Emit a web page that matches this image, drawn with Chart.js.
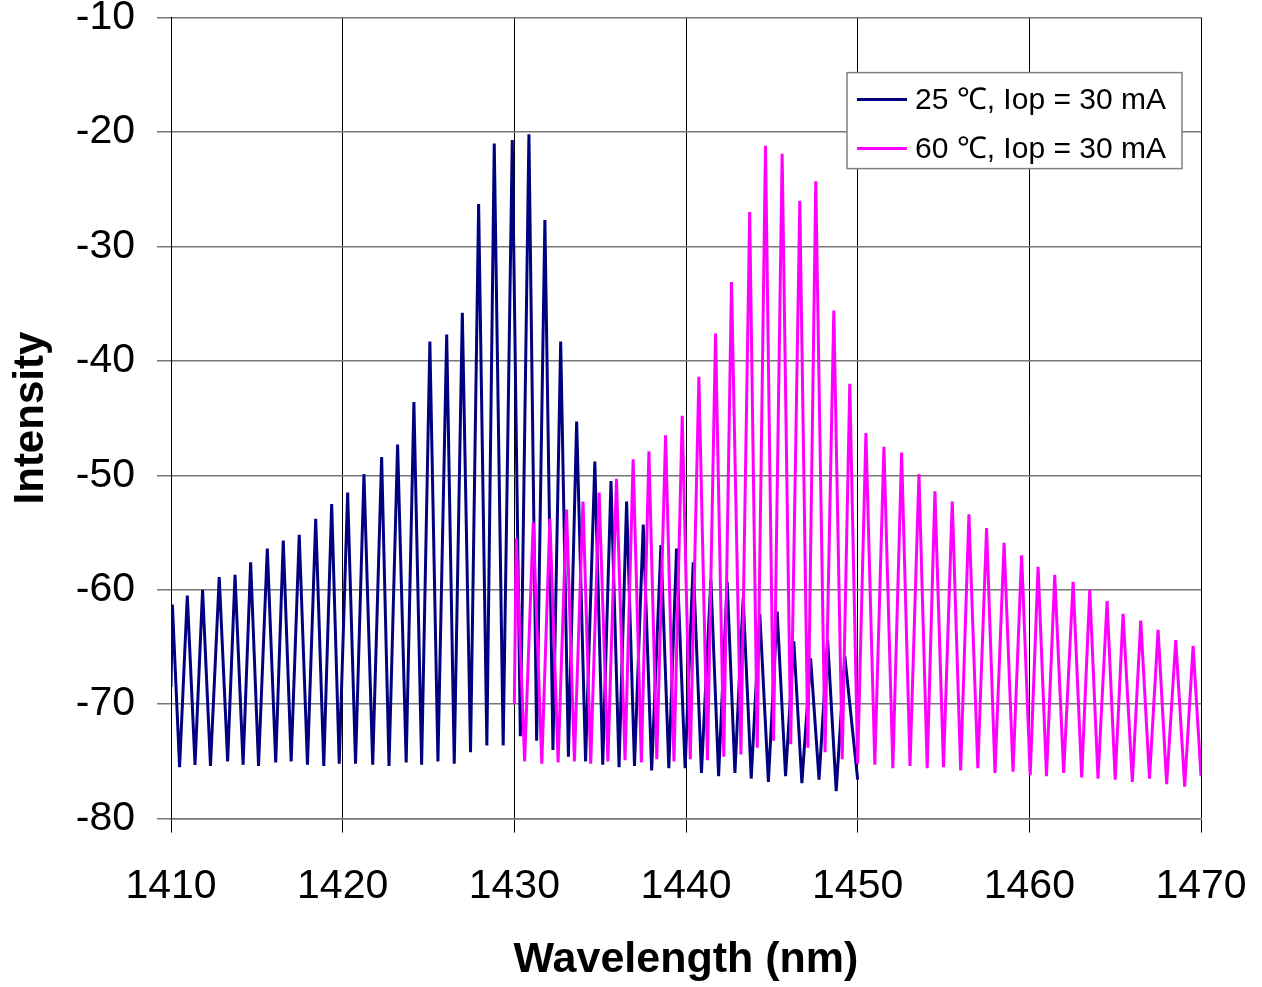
<!DOCTYPE html>
<html>
<head>
<meta charset="utf-8">
<script src="https://cdn.jsdelivr.net/npm/chart.js@4.4.0/dist/chart.umd.min.js"></script>
<style>
  html, body { margin: 0; padding: 0; background: #fff; }
  #wrap { width: 1262px; height: 987px; }
</style>
</head>
<body>
<div id="wrap"><canvas id="spectrum" width="1262" height="987"></canvas></div>
<script>
// series labels
const seriesNames = ['25 \u2103, Iop = 30 mA', '60 \u2103, Iop = 30 mA'];

// axis ticks
const xTicks = [1410, 1420, 1430, 1440, 1450, 1460, 1470];
const yTicks = [-80, -70, -60, -50, -40, -30, -20, -10];

// 25 C: mode peaks (nm, dB)
const bluePeakWl = [1410.08, 1410.95, 1411.84, 1412.81, 1413.73, 1414.64, 1415.61, 1416.54, 1417.47, 1418.43,
  1419.36, 1420.29, 1421.24, 1422.27, 1423.2, 1424.15, 1425.08, 1426.06, 1426.97, 1427.92,
  1428.83, 1429.88, 1430.85, 1431.78, 1432.7, 1433.63, 1434.69, 1435.63, 1436.54, 1437.51,
  1438.54, 1439.45, 1440.42, 1441.45, 1442.4, 1443.33, 1444.3, 1445.31, 1446.28, 1447.26,
  1448.25, 1449.25];
const bluePeakDb = [-61.3, -60.5, -60.0, -58.9, -58.7, -57.6, -56.4, -55.7, -55.2, -53.8,
  -52.5, -51.5, -49.9, -48.4, -47.3, -43.6, -38.3, -37.7, -35.8, -26.3,
  -21.0, -20.7, -20.2, -27.7, -38.3, -45.3, -48.8, -50.5, -52.3, -54.3,
  -56.1, -56.4, -57.6, -59.1, -59.3, -60.7, -62.1, -61.9, -64.5, -66.0,
  -64.4, -65.8];
// 25 C: valleys (start, between modes, end)
const blueValleyWl = [1410.0, 1410.5, 1411.4, 1412.3, 1413.3, 1414.2, 1415.1, 1416.1, 1417.0, 1417.95, 1418.9,
  1419.8, 1420.75, 1421.75, 1422.7, 1423.7, 1424.6, 1425.55, 1426.5, 1427.45, 1428.4,
  1429.35, 1430.35, 1431.3, 1432.25, 1433.15, 1434.15, 1435.15, 1436.1, 1437.0, 1438.0,
  1439.0, 1439.95, 1440.9, 1441.9, 1442.85, 1443.8, 1444.8, 1445.8, 1446.75, 1447.75,
  1448.75, 1450.0];
const blueValleyDb = [-68.5, -75.5, -75.3, -75.4, -75.0, -75.3, -75.4, -75.1, -75.0, -75.3, -75.4,
  -75.2, -75.2, -75.3, -75.4, -75.1, -75.3, -75.0, -75.2, -74.2, -73.6,
  -73.6, -72.8, -73.2, -74.0, -74.6, -75.0, -75.3, -75.5, -75.4, -75.8,
  -75.6, -75.6, -76.0, -76.3, -76.0, -76.5, -76.8, -76.3, -76.9, -76.6,
  -77.6, -76.6];

// 60 C: mode peaks (nm, dB)
const pinkPeakWl = [1430.11, 1431.1, 1432.07, 1433.04, 1434.0, 1434.94, 1435.95, 1436.92, 1437.84, 1438.81,
  1439.78, 1440.75, 1441.72, 1442.65, 1443.71, 1444.63, 1445.6, 1446.63, 1447.56, 1448.61,
  1449.54, 1450.48, 1451.53, 1452.56, 1453.57, 1454.5, 1455.51, 1456.48, 1457.51, 1458.53,
  1459.55, 1460.51, 1461.48, 1462.55, 1463.52, 1464.53, 1465.46, 1466.49, 1467.5, 1468.53,
  1469.54];
const pinkPeakDb = [-55.5, -54.1, -53.8, -53.0, -52.3, -51.5, -50.3, -48.6, -47.9, -46.5,
  -44.8, -41.4, -37.6, -33.1, -27.0, -21.2, -21.9, -26.0, -24.3, -35.6,
  -42.0, -46.3, -47.5, -48.0, -49.9, -51.4, -52.3, -53.4, -54.6, -55.9,
  -57.0, -58.0, -58.7, -59.3, -60.0, -61.0, -62.1, -62.7, -63.5, -64.4,
  -64.9];
// 60 C: valleys (start, between modes, end)
const pinkValleyWl = [1430.0, 1430.6, 1431.6, 1432.55, 1433.5, 1434.45, 1435.45, 1436.45, 1437.4, 1438.3, 1439.3,
  1440.25, 1441.25, 1442.2, 1443.2, 1444.15, 1445.1, 1446.1, 1447.1, 1448.1, 1449.1,
  1450.0, 1451.0, 1452.05, 1453.05, 1454.05, 1455.0, 1456.0, 1457.0, 1458.0, 1459.05,
  1460.05, 1461.0, 1462.0, 1463.05, 1464.0, 1465.0, 1466.0, 1467.0, 1468.0, 1469.05,
  1470.0];
const pinkValleyDb = [-70.0, -75.0, -75.2, -75.1, -75.0, -75.2, -75.0, -74.9, -75.1, -74.8, -75.0,
  -74.8, -74.9, -74.6, -74.4, -73.8, -73.2, -73.5, -73.8, -74.2, -74.8,
  -75.2, -75.3, -75.6, -75.4, -75.6, -75.5, -75.8, -75.6, -76.0, -75.9,
  -76.2, -76.3, -76.0, -76.4, -76.5, -76.6, -76.8, -76.5, -77.0, -77.2,
  -76.3];

// valley, peak, valley, peak ... valley
function trace(peakWl, peakDb, valleyWl, valleyDb) {
    const pts = [{ x: valleyWl[0], y: valleyDb[0] }];
    peakWl.forEach((w, i) => {
        pts.push({ x: w, y: peakDb[i] });
        pts.push({ x: valleyWl[i + 1], y: valleyDb[i + 1] });
    });
    return pts;
}

const FONT = "'Liberation Sans', Arial, sans-serif";

// boxed legend inside the plot, top right
const boxLegend = {
    id: 'boxLegend',
    afterDatasetsDraw(chart) {
        const ctx = chart.ctx;
        const area = chart.chartArea;
        const x = area.right - 354, y = area.top + 55, w = 335, h = 96;
        ctx.save();
        ctx.fillStyle = '#fff';
        ctx.fillRect(x, y, w, h);
        ctx.strokeStyle = '#808080';
        ctx.lineWidth = 1.5;
        ctx.strokeRect(x, y, w, h);
        ctx.font = '30px ' + FONT;
        ctx.textBaseline = 'middle';
        ctx.fillStyle = '#000';
        chart.data.datasets.forEach((ds, i) => {
            const ly = y + 27 + i * 49;
            ctx.strokeStyle = ds.borderColor;
            ctx.lineWidth = 3;
            ctx.beginPath();
            ctx.moveTo(x + 10, ly);
            ctx.lineTo(x + 60, ly);
            ctx.stroke();
            ctx.fillText(ds.label, x + 68, ly + 1);
        });
        ctx.restore();
    }
};

new Chart(document.getElementById('spectrum'), {
    type: 'line',
    data: {
        datasets: [
            { label: seriesNames[0], data: trace(bluePeakWl, bluePeakDb, blueValleyWl, blueValleyDb),
              borderColor: '#000080', borderWidth: 3, pointRadius: 0, tension: 0, order: 1 },
            { label: seriesNames[1], data: trace(pinkPeakWl, pinkPeakDb, pinkValleyWl, pinkValleyDb),
              borderColor: '#ff00ff', borderWidth: 3, pointRadius: 0, tension: 0, order: 0 }
        ]
    },
    options: {
        responsive: false,
        animation: false,
        devicePixelRatio: 1,
        layout: { padding: { top: 17.6, right: 61, left: 0, bottom: 0 } },
        plugins: { legend: { display: false }, tooltip: { enabled: false } },
        scales: {
            x: {
                type: 'linear', min: 1410, max: 1470,
                afterBuildTicks: s => { s.ticks = xTicks.map(v => ({ value: v })); },
                afterFit: s => { s.height = 168.4; s.paddingLeft = 0; s.paddingRight = 0; },
                grid: { color: '#000', lineWidth: 1, tickLength: 14 },
                border: { color: '#777', width: 1.5 },
                ticks: { color: '#000', padding: 29, maxRotation: 0, font: { family: FONT, size: 41 },
                         callback: v => String(v) },
                title: { display: true, text: 'Wavelength (nm)', color: '#000', padding: { top: 0, bottom: 1 },
                         font: { family: FONT, size: 43, weight: 'bold' } }
            },
            y: {
                type: 'linear', min: -80, max: -10,
                afterBuildTicks: s => { s.ticks = yTicks.map(v => ({ value: v })); },
                afterFit: s => { s.width = 171; s.paddingTop = 0; s.paddingBottom = 0; },
                grid: { color: '#777', lineWidth: 1.5, tickLength: 14 },
                border: { color: '#000', width: 1 },
                ticks: { color: '#000', padding: 22, font: { family: FONT, size: 41 },
                         callback: v => String(v) },
                title: { display: true, text: 'Intensity', color: '#000', padding: { top: 6, bottom: 0 },
                         font: { family: FONT, size: 42, weight: 'bold' } }
            }
        }
    },
    plugins: [boxLegend]
});
</script>
</body>
</html>
